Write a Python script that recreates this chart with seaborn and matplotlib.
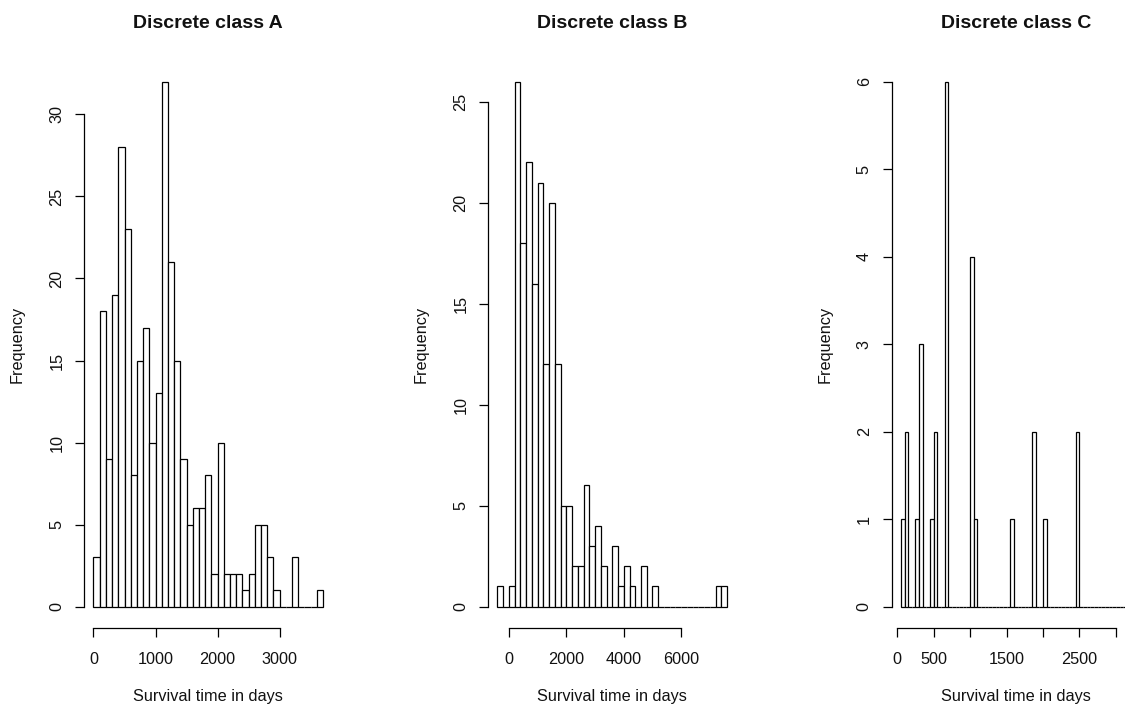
import numpy as np
import pandas as pd
import matplotlib
matplotlib.use("Agg")
import matplotlib.pyplot as plt
import seaborn as sns

# Histogram counts per bin (bins of constant width starting at the given break)
class_a_counts = [3, 18, 9, 19, 28, 23, 8, 15, 17, 10, 13, 32, 21, 15, 9, 5, 6, 6, 8, 2,
                  10, 2, 2, 2, 1, 2, 5, 5, 3, 1, 0, 0, 3, 0, 0, 0, 1]
class_a_start, class_a_width = 0, 100

class_b_counts = [1, 0, 1, 26, 18, 22, 16, 21, 12, 20, 12, 5, 5, 2, 2, 6, 3, 4, 2, 0,
                  3, 1, 2, 1, 0, 2, 0, 1, 0, 0, 0, 0, 0, 0, 0, 0, 0, 0, 1, 1]
class_b_start, class_b_width = -400, 200

class_c_counts = [1, 2, 0, 0, 1, 3, 0, 0, 1, 2, 0, 0, 6, 0, 0, 0, 0, 0, 0, 4,
                  1, 0, 0, 0, 0, 0, 0, 0, 0, 0, 1, 0, 0, 0, 0, 0, 2, 0, 0, 1,
                  0, 0, 0, 0, 0, 0, 0, 0, 2, 0, 0, 0, 0, 0, 0, 0, 0, 0, 0, 0,
                  0, 0, 0]
class_c_start, class_c_width = 50, 50

titles = ["Discrete class A", "Discrete class B", "Discrete class C"]
x_ticks = [[0, 1000, 2000, 3000],
           [0, 2000, 4000, 6000],
           [0, 500, 1000, 1500, 2000, 2500, 3000]]
x_tick_labels = [["0", "1000", "2000", "3000"],
                 ["0", "2000", "4000", "6000"],
                 ["0", "500", "", "1500", "", "2500", ""]]
y_ticks = [[0, 5, 10, 15, 20, 25, 30],
           [0, 5, 10, 15, 20, 25],
           [0, 1, 2, 3, 4, 5, 6]]

sns.set_style("ticks")
plt.rcParams["font.family"] = ["Liberation Sans", "DejaVu Sans"]
plt.rcParams["text.color"] = "#111111"
plt.rcParams["axes.labelcolor"] = "#111111"

W, H = 1125, 709
fig = plt.figure(figsize=(W / 100, H / 100), dpi=100)

panels = [(class_a_counts, class_a_start, class_a_width),
          (class_b_counts, class_b_start, class_b_width),
          (class_c_counts, class_c_start, class_c_width)]
left_px = [84.3, 488.3, 891.7]
plot_w, plot_top, plot_bottom = 248.0, 60.7, 627.5

lab_size = 11.7
lw = 0.9
for i, (counts, start, width) in enumerate(panels):
    ax = fig.add_axes([left_px[i] / W, (H - plot_bottom) / H,
                       plot_w / W, (plot_bottom - plot_top) / H])
    counts = np.asarray(counts, dtype=float)
    edges = start + width * np.arange(len(counts) + 1)
    df = pd.DataFrame({"days": (edges[:-1] + edges[1:]) / 2, "n": counts})
    sns.histplot(data=df, x="days", weights="n", bins=edges.tolist(), ax=ax,
                 color="white", edgecolor="black", linewidth=lw, alpha=1)

    span = edges[-1] - edges[0]
    ax.set_xlim(edges[0] - 0.04 * span, edges[-1] + 0.04 * span)
    ymax = counts.max()
    ax.set_ylim(-0.04 * ymax, 1.04 * ymax)

    for s in ("top", "right"):
        ax.spines[s].set_visible(False)
    for s in ("left", "bottom"):
        ax.spines[s].set_linewidth(lw)
        ax.spines[s].set_color("black")
    ax.spines["bottom"].set_bounds(x_ticks[i][0], x_ticks[i][-1])
    ax.spines["left"].set_bounds(y_ticks[i][0], y_ticks[i][-1])

    ax.set_xticks(x_ticks[i])
    ax.set_xticklabels(x_tick_labels[i])
    ax.set_yticks(y_ticks[i])
    ax.tick_params(axis="both", direction="out", length=6.5, width=lw,
                   color="black", labelsize=lab_size, labelcolor="#111111")
    ax.tick_params(axis="x", pad=11.4)
    ax.tick_params(axis="y", pad=7.9, labelrotation=90)
    for lbl in ax.get_yticklabels():
        lbl.set_verticalalignment("center")

    ax.set_xlabel("Survival time in days", fontsize=lab_size)
    ax.set_ylabel("Frequency", fontsize=lab_size)
    ax.xaxis.set_label_coords(0.5, (plot_bottom - 696.7) / (plot_bottom - plot_top))
    ax.xaxis.label.set_verticalalignment("center")
    ax.yaxis.set_label_coords((17.3 - left_px[0]) / plot_w, 0.5)
    ax.yaxis.label.set_verticalalignment("center")

    ax.text(0.5, (plot_bottom - 23.0) / (plot_bottom - plot_top), titles[i],
            transform=ax.transAxes, ha="center", va="center",
            fontsize=14, fontweight="bold")

fig.savefig("out.png", dpi=100)
